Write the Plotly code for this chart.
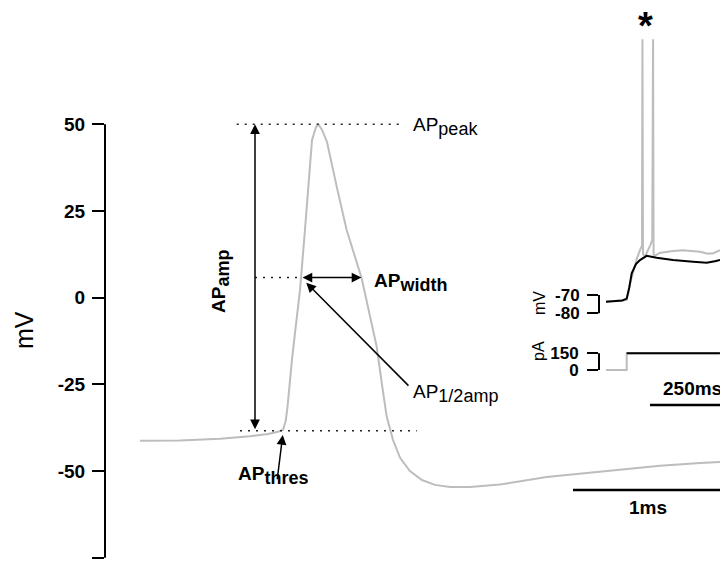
import numpy as np
import plotly.graph_objects as go

# ---------------- data ----------------
# main action potential trace (time in ms, membrane potential in mV)
ap_t_ms = [0.233, 0.5, 0.767, 0.967, 1.087, 1.153, 1.187, 1.205, 1.218, 1.23, 1.245, 1.267,
           1.3, 1.333, 1.36, 1.38, 1.407, 1.423, 1.447, 1.48, 1.547, 1.611, 1.711,
           1.811, 1.847, 1.878, 1.92, 1.967, 2.033, 2.113, 2.2, 2.3, 2.433, 2.633,
           2.944, 3.387, 3.7, 3.967, 4.1]
ap_v_mv = [-41.3, -41.2, -40.7, -40.0, -39.3, -38.7, -38.1, -35.5, -31.0, -25.0, -18.5, -10.0,
           2.2, 19.5, 33.9, 45.4, 49.2, 50.0, 48.4, 44.9, 31.6, 19.5, 5.6,
           -14.1, -25.2, -34.3, -41.0, -46.2, -50.0, -52.6, -54.0, -54.6, -54.6, -53.9,
           -51.7, -49.7, -48.5, -47.7, -47.4]
ap_thres_mv = -38.4
ap_thres_t_ms = 1.18

y_ticks_mv = [-75, -50, -25, 0, 25, 50]
y_tick_labels = ["-75", "-50", "-25", "0", "25", "50"]

# inset: voltage responses to a current step (time in ms)
inset_grey_t = [20.8, 45, 70, 82.4, 92, 102, 112, 122, 128, 129.3, 129.6, 131, 137, 145,
                152, 158.5, 160.5, 160.9, 162.5, 168, 180, 201.5, 220, 250, 280, 300.6,
                320.5, 339, 360]
inset_grey_v = [-73.7, -73.2, -72.8, -72.7, -64.0, -56.4, -50.5, -45.5, -43.0, 69.7, 69.7,
                -47.5, -49.0, -46.0, -43.0, -40.0, 69.7, 69.7, -48.0, -48.5, -47.0, -46.4,
                -46.0, -45.5, -45.8, -46.4, -47.3, -47.3, -45.5]
inset_black_t = [20.8, 45, 70, 82.4, 90, 97.3, 110, 122, 141.7, 171.5, 220, 280, 320.5,
                 345, 360]
inset_black_v = [-73.7, -73.4, -73.0, -72.0, -66.0, -58.2, -53.1, -50.9, -48.6, -49.7,
                 -50.9, -51.8, -52.4, -51.5, -50.9]
inset_mv_ticks = [-80, -70]
# injected current
inset_i_t = [20.8, 82.4, 82.4, 360]
inset_i_pa = [0, 0, 150, 150]
inset_pa_ticks = [0, 150]

# scale bars
main_bar_start_ms, main_bar_len_ms = 3.12, 1.0
inset_bar_start_ms, inset_bar_len_ms = 151.8, 250.0

# ---------------- geometry helpers ----------------
W, H = 720, 565
ML, MR, MT, MB = 105, 0, 10, 2
PW, PH = W - ML - MR, H - MT - MB


def fx(px):
    return (px - ML) / PW


def fy(py):
    return (H - MB - py) / PH


GREY = "#bdbdbd"
FONT = "Arial, Liberation Sans, sans-serif"

# derived quantities
t = np.array(ap_t_ms)
v = np.array(ap_v_mv)
ipk = int(np.argmax(v))
ap_peak = float(v[ipk])
half = (ap_peak + ap_thres_mv) / 2
ithr = int(np.argmin(np.abs(t - ap_thres_t_ms)))
t_rise = float(np.interp(half, v[ithr:ipk + 1], t[ithr:ipk + 1]))
imin = int(np.argmin(v))
t_fall = float(np.interp(half, v[ipk:imin + 1][::-1], t[ipk:imin + 1][::-1]))

fig = go.Figure()

fig.add_trace(go.Scatter(x=ap_t_ms, y=ap_v_mv, mode="lines",
                         line=dict(color=GREY, width=2), xaxis="x", yaxis="y",
                         hoverinfo="skip"))
fig.add_trace(go.Scatter(x=inset_grey_t, y=inset_grey_v, mode="lines",
                         line=dict(color=GREY, width=2), xaxis="x2", yaxis="y2",
                         hoverinfo="skip"))
fig.add_trace(go.Scatter(x=inset_black_t, y=inset_black_v, mode="lines",
                         line=dict(color="black", width=2), xaxis="x2", yaxis="y2",
                         hoverinfo="skip"))
fig.add_trace(go.Scatter(x=inset_i_t, y=inset_i_pa, mode="lines",
                         line=dict(color=GREY, width=2), xaxis="x2", yaxis="y3",
                         hoverinfo="skip"))
fig.add_trace(go.Scatter(x=inset_i_t[2:], y=inset_i_pa[2:], mode="lines",
                         line=dict(color="black", width=2), xaxis="x2", yaxis="y3",
                         hoverinfo="skip"))

# y ranges from pixel geometry
k1 = (557.7 - 124.3) / 125.0
y1_range = [-75 - (H - MB - 557.7) / k1, 50 + (124.3 - MT) / k1]
k2 = 18.3 / 10.0
y2_range = [-70 - (320 - 295) / k2, -70 + (295 - 30) / k2]
k3 = (370 - 353.3) / 150.0
y3_range = [0 - (380 - 370) / k3, 150 + (353.3 - 340) / k3]

tickfont_main = dict(family=FONT, size=19, color="black", weight="bold")
tickfont_inset = dict(family=FONT, size=17, color="black", weight="bold")

fig.update_layout(
    width=W, height=H,
    margin=dict(l=ML, r=MR, t=MT, b=MB),
    paper_bgcolor="white", plot_bgcolor="rgba(0,0,0,0)",
    showlegend=False,
    xaxis=dict(domain=[0, 1], range=[0, PW / 150.0], visible=False),
    yaxis=dict(domain=[0, 1], range=y1_range, showgrid=False, zeroline=False,
               showline=False, ticks="outside", ticklen=12, tickwidth=2,
               tickcolor="black", tickvals=y_ticks_mv, ticktext=y_tick_labels,
               tickfont=tickfont_main, ticklabelstandoff=3),
    xaxis2=dict(domain=[fx(599), 1], range=[0, (720 - 599) / 0.336], anchor="y2",
                visible=False),
    yaxis2=dict(domain=[fy(320), fy(30)], range=y2_range, anchor="x2",
                showgrid=False, zeroline=False, showline=False, ticks="outside",
                ticklen=11, tickwidth=2, tickcolor="black", tickvals=inset_mv_ticks,
                ticktext=[str(x) for x in inset_mv_ticks], tickfont=tickfont_inset,
                ticklabelstandoff=4),
    yaxis3=dict(domain=[fy(380), fy(340)], range=y3_range, anchor="x2",
                showgrid=False, zeroline=False, showline=False, ticks="outside",
                ticklen=11, tickwidth=2, tickcolor="black", tickvals=inset_pa_ticks,
                ticktext=[str(x) for x in inset_pa_ticks], tickfont=tickfont_inset,
                ticklabelstandoff=5),
)

shapes = []
# main axis spine
shapes.append(dict(type="line", xref="paper", yref="y", x0=0, x1=0,
                   y0=min(y_ticks_mv), y1=max(y_ticks_mv),
                   line=dict(color="black", width=2)))
# inset brackets
shapes.append(dict(type="line", xref="paper", yref="y2", x0=fx(599), x1=fx(599),
                   y0=inset_mv_ticks[0], y1=inset_mv_ticks[1],
                   line=dict(color="black", width=2)))
shapes.append(dict(type="line", xref="paper", yref="y3", x0=fx(599), x1=fx(599),
                   y0=inset_pa_ticks[0], y1=inset_pa_ticks[1],
                   line=dict(color="black", width=2)))
# scale bars
shapes.append(dict(type="line", xref="x", yref="paper", x0=main_bar_start_ms,
                   x1=main_bar_start_ms + main_bar_len_ms, y0=fy(490), y1=fy(490),
                   line=dict(color="black", width=2.5)))
shapes.append(dict(type="line", xref="x2", yref="paper", x0=inset_bar_start_ms,
                   x1=inset_bar_start_ms + inset_bar_len_ms, y0=fy(405), y1=fy(405),
                   line=dict(color="black", width=2.5)))
# dotted guide lines
DOT = "2px,6px"
shapes.append(dict(type="line", xref="x", yref="y", x0=0.878, x1=1.967,
                   y0=ap_peak, y1=ap_peak, line=dict(color="#222", width=1.5, dash=DOT)))
shapes.append(dict(type="line", xref="x", yref="y", x0=1.0, x1=t_rise,
                   y0=half, y1=half, line=dict(color="#222", width=1.5, dash=DOT)))
shapes.append(dict(type="line", xref="x", yref="y", x0=0.9, x1=2.078,
                   y0=ap_thres_mv, y1=ap_thres_mv,
                   line=dict(color="#222", width=1.5, dash=DOT)))
fig.update_layout(shapes=shapes)

ann = []
arrow_common = dict(showarrow=True, text="", arrowcolor="black", arrowwidth=1.5,
                    arrowhead=2, arrowsize=1.3, standoff=0, startstandoff=0,
                    xref="x", yref="y", axref="x", ayref="y")
# AP amplitude double arrow
ann.append(dict(x=1.0, y=ap_peak, ax=1.0, ay=ap_thres_mv, arrowside="end+start",
                startarrowhead=2, startarrowsize=1.3, **arrow_common))
# AP width double arrow
ann.append(dict(x=t_fall, y=half, ax=t_rise, ay=half, arrowside="end+start",
                startarrowhead=2, startarrowsize=1.3, **arrow_common))
# half amplitude pointer
ann.append(dict(x=t_rise + 0.035, y=half - 1.5, ax=2.033, ay=-25.8, **arrow_common))
# threshold pointer
ann.append(dict(x=ap_thres_t_ms + 0.005, y=ap_thres_mv - 1.2, ax=1.147, ay=-52.8,
                **arrow_common))

SUB = "<sub><span style='font-size:18px'>{}</span></sub>"
label_font = dict(family=FONT, size=19, color="black")
bold_font = dict(family=FONT, size=19, color="black", weight="bold")

ann.append(dict(text="AP" + SUB.format("peak"), xref="paper", yref="paper",
                x=fx(411), y=fy(127), xanchor="left", yanchor="middle",
                showarrow=False, font=label_font))
ann.append(dict(text="AP" + SUB.format("width"), xref="paper", yref="paper",
                x=fx(372), y=fy(282), xanchor="left", yanchor="middle",
                showarrow=False, font=bold_font))
ann.append(dict(text="AP" + SUB.format("1/2amp"), xref="paper", yref="paper",
                x=fx(411), y=fy(393), xanchor="left", yanchor="middle",
                showarrow=False, font=label_font))
ann.append(dict(text="AP" + SUB.format("thres"), xref="paper", yref="paper",
                x=fx(236), y=fy(475), xanchor="left", yanchor="middle",
                showarrow=False, font=bold_font))
ann.append(dict(text="AP" + SUB.format("amp"), xref="paper", yref="paper",
                x=fx(220), y=fy(282), xanchor="center", yanchor="middle",
                textangle=-90, showarrow=False, font=bold_font))
# axis titles
ann.append(dict(text="mV", xref="paper", yref="paper", x=fx(24), y=fy(330),
                xanchor="center", yanchor="middle", textangle=-90, showarrow=False,
                font=dict(family=FONT, size=25, color="black")))
ann.append(dict(text="mV", xref="paper", yref="paper", x=fx(539), y=fy(303),
                xanchor="center", yanchor="middle", textangle=-90, showarrow=False,
                font=dict(family=FONT, size=16, color="black")))
ann.append(dict(text="pA", xref="paper", yref="paper", x=fx(538), y=fy(351),
                xanchor="center", yanchor="middle", textangle=-90, showarrow=False,
                font=dict(family=FONT, size=16, color="black")))
# scale bar labels
ann.append(dict(text="1ms", xref="x", yref="paper",
                x=main_bar_start_ms + main_bar_len_ms / 2, y=fy(507),
                xanchor="center", yanchor="middle", showarrow=False, font=bold_font))
ann.append(dict(text="250ms", xref="x2", yref="paper",
                x=inset_bar_start_ms + inset_bar_len_ms / 2, y=fy(388),
                xanchor="center", yanchor="middle", showarrow=False, font=bold_font))
# asterisk over the spikes
ann.append(dict(text="*", xref="x2", yref="paper", x=(129.5 + 160.7) / 2 - 6, y=fy(26),
                xanchor="center", yanchor="middle", showarrow=False,
                font=dict(family=FONT, size=38, color="black", weight="bold")))
fig.update_layout(annotations=ann)

fig.write_html("out.html",
               config={"displayModeBar": False},
               post_script="document.body.style.margin='0';"
                           "document.body.style.overflow='hidden';")
